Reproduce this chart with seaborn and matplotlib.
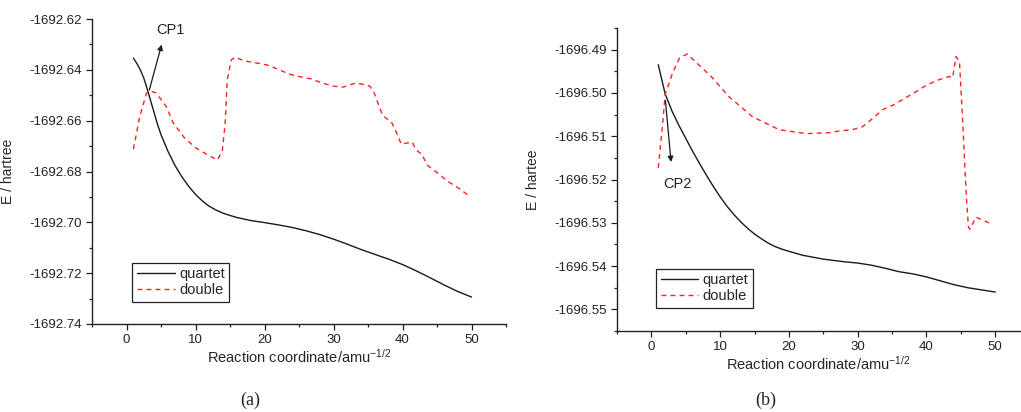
import numpy as np
import pandas as pd
import seaborn as sns
import matplotlib.pyplot as plt
from matplotlib.ticker import MultipleLocator, FormatStrFormatter

# panel (a) data
a_quartet_x = [1, 1.5, 2, 2.5, 3, 3.5, 4, 4.5, 5, 6, 7, 8, 9, 10, 11, 12, 13, 14, 15, 16,
               18, 20, 22, 24, 26, 28, 30, 32, 34, 36, 38, 40, 42, 44, 46, 48, 50]
a_quartet_y = [-1692.6354, -1692.6375, -1692.6400, -1692.6432, -1692.6475, -1692.6522,
               -1692.6568, -1692.6615, -1692.6655, -1692.6720, -1692.6775, -1692.6820,
               -1692.6858, -1692.6890, -1692.6916, -1692.6937, -1692.6952, -1692.6964,
               -1692.6973, -1692.6981, -1692.6993, -1692.7001, -1692.7010, -1692.7020,
               -1692.7033, -1692.7048, -1692.7066, -1692.7086, -1692.7107, -1692.7126,
               -1692.7145, -1692.7166, -1692.7191, -1692.7218, -1692.7246, -1692.7272,
               -1692.7294]
a_double_x = [1.0, 1.9, 2.9, 3.6, 4.3, 5.8, 6.7, 8.4, 10.1, 11.8, 13.2, 13.9, 14.3, 14.6,
              15.2, 15.7, 17.1, 18.8, 20.4, 21.9, 23.6, 25.3, 26.8, 28.4, 29.9, 31.4,
              33.2, 34.8, 35.3, 35.9, 36.5, 37.1, 38.5, 39.3, 39.8, 40.3, 41.4, 42.0,
              42.8, 43.6, 45.1, 46.5, 48.1, 49.7]
a_double_y = [-1692.6712, -1692.6586, -1692.6491, -1692.6485, -1692.6491, -1692.6546,
              -1692.6606, -1692.6668, -1692.6708, -1692.6735, -1692.6755, -1692.6716,
              -1692.6610, -1692.6440, -1692.6361, -1692.6350, -1692.6365, -1692.6373,
              -1692.6381, -1692.6397, -1692.6417, -1692.6428, -1692.6436, -1692.6452,
              -1692.6464, -1692.6468, -1692.6452, -1692.6460, -1692.6465, -1692.6491,
              -1692.6535, -1692.6578, -1692.6610, -1692.6657, -1692.6692, -1692.6690,
              -1692.6684, -1692.6716, -1692.6732, -1692.6775, -1692.6806, -1692.6838,
              -1692.6865, -1692.6897]

# panel (b) data
b_quartet_x = [1, 2, 3, 4, 5, 6, 7, 8, 9, 10, 11, 12, 13, 14, 15, 16, 17, 18, 19, 20, 22,
               25, 28, 30, 32, 34, 36, 38, 40, 42, 44, 46, 48, 50]
b_quartet_y = [-1696.4935, -1696.5002, -1696.5042, -1696.5075, -1696.5105, -1696.5135,
               -1696.5163, -1696.5190, -1696.5216, -1696.5240, -1696.5262, -1696.5281,
               -1696.5298, -1696.5313, -1696.5326, -1696.5337, -1696.5347, -1696.5355,
               -1696.5361, -1696.5366, -1696.5375, -1696.5384, -1696.5390, -1696.5393,
               -1696.5398, -1696.5405, -1696.5413, -1696.5418, -1696.5425, -1696.5434,
               -1696.5443, -1696.5450, -1696.5455, -1696.5460]
b_double_x = [1.0, 1.6, 2.0, 3.1, 4.1, 5.2, 8.7, 11.3, 14.7, 18.6, 22.5, 25.9, 27.3, 29.2,
              30.7, 32.1, 33.6, 35.3, 37.0, 38.5, 40.1, 41.9, 43.3, 43.8, 44.3, 44.8,
              45.2, 45.8, 46.1, 46.3, 47.2, 47.6, 49.1]
b_double_y = [-1696.5173, -1696.5078, -1696.5004, -1696.4953, -1696.4919, -1696.4910,
              -1696.4962, -1696.5009, -1696.5055, -1696.5085, -1696.5094, -1696.5092,
              -1696.5088, -1696.5085, -1696.5078, -1696.5060, -1696.5039, -1696.5027,
              -1696.5011, -1696.4997, -1696.4981, -1696.4969, -1696.4962, -1696.4965,
              -1696.4916, -1696.4928, -1696.5046, -1696.5240, -1696.5310, -1696.5315,
              -1696.5287, -1696.5290, -1696.5300]

sns.set_style("ticks")
plt.rcParams['font.family'] = ['Liberation Sans', 'DejaVu Sans']

fig = plt.figure(figsize=(10.21, 4.12), dpi=100)
ax1 = fig.add_axes([92 / 1021, 1 - 324 / 412, 414 / 1021, 305 / 412])
ax2 = fig.add_axes([617 / 1021, 1 - 331 / 412, 403 / 1021, 303 / 412])

black = '#1a1a1a'
red = '#ff2020'
dash = (0, (3.5, 3))
xlab = r'Reaction coordinate/amu$\mathregular{^{-1/2}}$'


def draw_panel(ax, qx, qy, dx, dy):
    sns.lineplot(x=qx, y=qy, ax=ax, color=black, lw=1.0, label='quartet')
    sns.lineplot(x=dx, y=dy, ax=ax, color=red, lw=1.0, linestyle=dash, label='double')
    sns.despine(ax=ax)
    ax.xaxis.set_major_locator(MultipleLocator(10))
    ax.xaxis.set_minor_locator(MultipleLocator(5))
    ax.tick_params(which='major', direction='out', length=4, width=0.9, labelsize=9.5,
                   colors='#222222')
    ax.tick_params(which='minor', direction='out', length=2.5, width=0.9, colors='#222222')
    for s in ['left', 'bottom']:
        ax.spines[s].set_linewidth(1.0)
        ax.spines[s].set_color('#222222')
    ax.set_xlabel(xlab, fontsize=10.5, labelpad=1)
    ax.yaxis.set_major_formatter(FormatStrFormatter('%.2f'))


draw_panel(ax1, a_quartet_x, a_quartet_y, a_double_x, a_double_y)
ax1.set_xlim(-5, 55)
ax1.set_ylim(-1692.74, -1692.62)
ax1.yaxis.set_major_locator(MultipleLocator(0.02))
ax1.yaxis.set_minor_locator(MultipleLocator(0.01))
ax1.set_ylabel('E / hartree', fontsize=10, labelpad=10)
ax1.annotate('', xy=(5.2, -1692.629), xytext=(3.2, -1692.649),
             arrowprops=dict(arrowstyle='-|>', color=black, lw=0.9, mutation_scale=8))
ax1.text(6.3, -1692.6243, 'CP1', fontsize=10.5, ha='center', va='center', color='#222222')
leg1 = ax1.legend(loc='lower left', bbox_to_anchor=(0.08, 0.049), fontsize=10.5,
                  frameon=True, fancybox=False, edgecolor='#222222', framealpha=1,
                  handlelength=2.6, handletextpad=0.3, borderpad=0.3, labelspacing=0.15)
leg1.get_frame().set_linewidth(0.9)

draw_panel(ax2, b_quartet_x, b_quartet_y, b_double_x, b_double_y)
ax2.set_xlim(-5, 53.6)
ax2.set_ylim(-1696.555, -1696.485)
ax2.yaxis.set_major_locator(MultipleLocator(0.01))
ax2.yaxis.set_minor_locator(MultipleLocator(0.005))
ax2.set_ylabel('E / hartee', fontsize=10, labelpad=10)
ax2.annotate('', xy=(2.9, -1696.5166), xytext=(2.0, -1696.5011),
             arrowprops=dict(arrowstyle='-|>', color=black, lw=0.9, mutation_scale=8))
ax2.text(3.8, -1696.521, 'CP2', fontsize=10.5, ha='center', va='center', color='#222222')
leg2 = ax2.legend(loc='lower left', bbox_to_anchor=(0.079, 0.053), fontsize=10.5,
                  frameon=True, fancybox=False, edgecolor='#222222', framealpha=1,
                  handlelength=2.6, handletextpad=0.3, borderpad=0.3, labelspacing=0.15)
leg2.get_frame().set_linewidth(0.9)

fig.text(250 / 1021, 1 - 400 / 412, '(a)', fontsize=13, ha='center', va='center',
         family=['Liberation Serif', 'DejaVu Serif'])
fig.text(766 / 1021, 1 - 400 / 412, '(b)', fontsize=13, ha='center', va='center',
         family=['Liberation Serif', 'DejaVu Serif'])

fig.savefig('out.png', dpi=100)
